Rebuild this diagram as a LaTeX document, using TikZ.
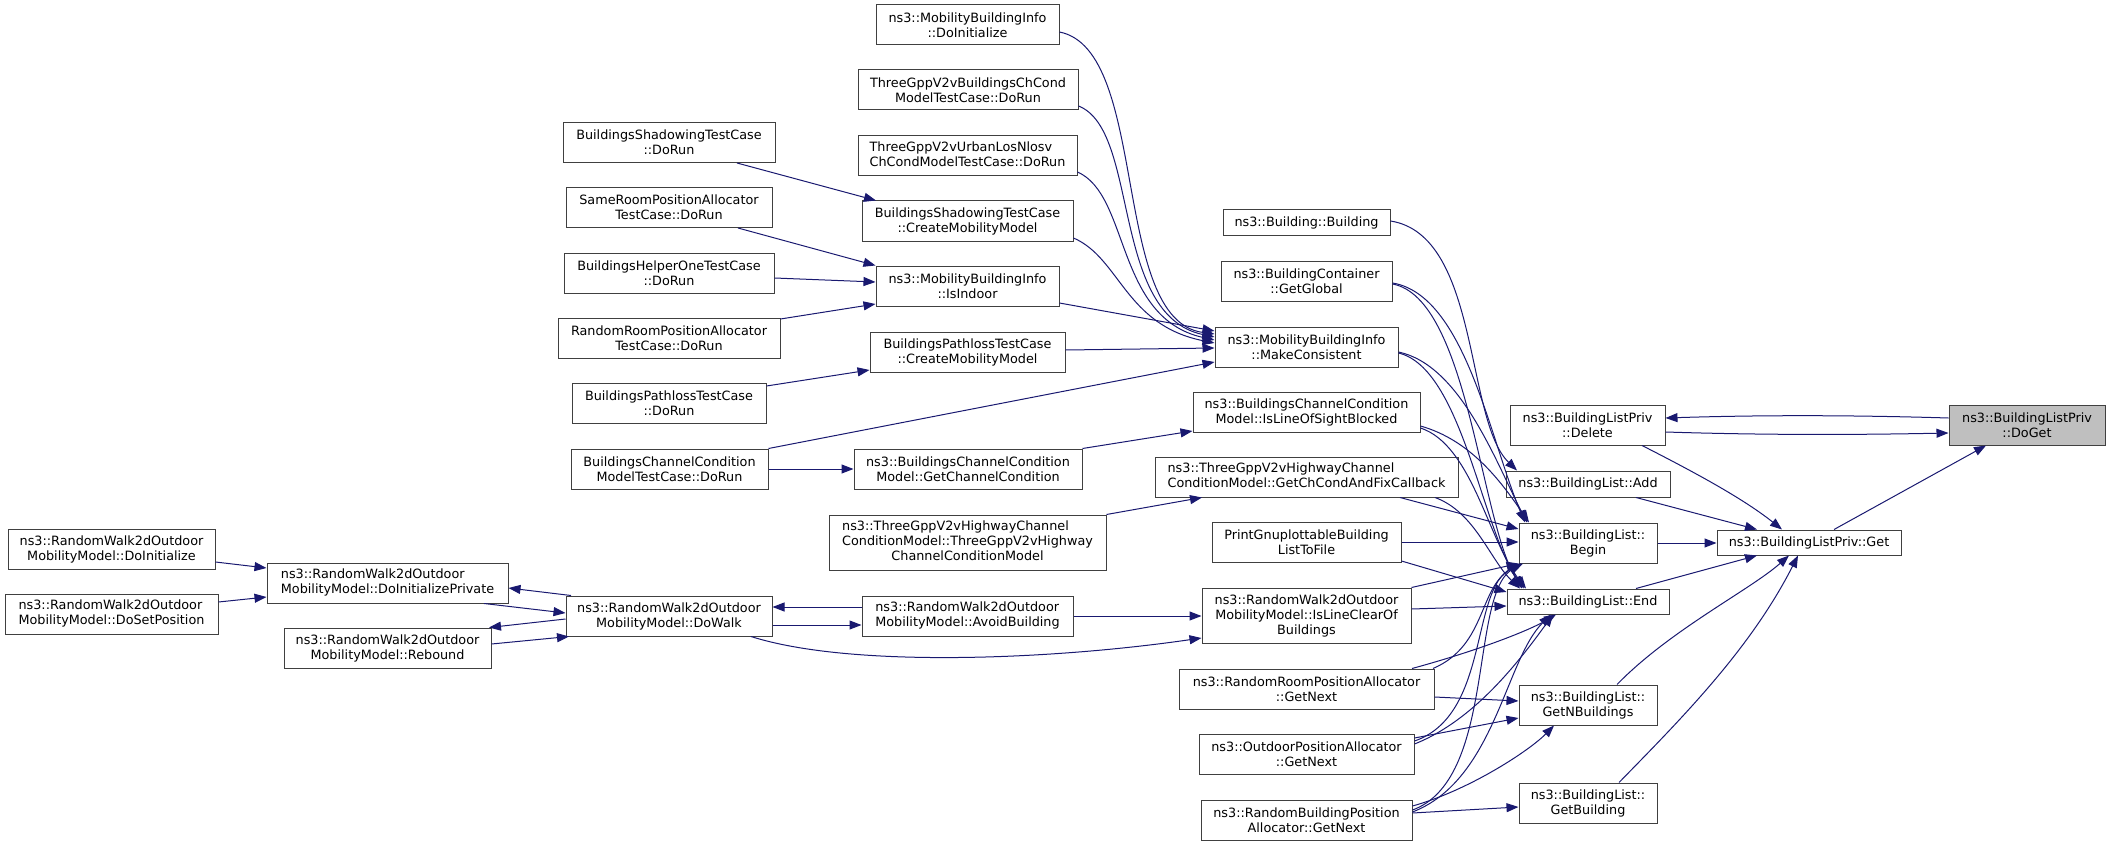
\documentclass[tikz,border=0pt]{standalone}
\usepackage{fontspec}
\usetikzlibrary{arrows.meta}
\newfontfamily\dvs{DejaVu Sans}
\newcommand\gfont{\dvs\fontsize{12.8}{15}\selectfont}
\definecolor{edgeblue}{HTML}{191970}
\definecolor{nodegray}{HTML}{404040}
\definecolor{hlgray}{HTML}{BFBFBF}
\tikzset{
  fn/.style={draw=nodegray, line width=1pt, fill=white, inner sep=0pt, align=center, font=\gfont, text=black},
  fnl/.style={draw=nodegray, line width=1pt, fill=white, inner sep=0pt, font=\gfont, text=black},
  edge/.style={draw=edgeblue, line width=1pt, -{Triangle[length=12pt,width=9pt]}}
}
\begin{document}
\begin{tikzpicture}[x=1pt,y=-1pt]
\useasboundingbox (0,0) rectangle (2109,845);
% right column
\node[fn, fill=hlgray, minimum width=156pt, minimum height=40pt] (DoGet) at (2027,425) {ns3::BuildingListPriv\\::DoGet};
\node[fn, minimum width=155pt, minimum height=40pt] (Delete) at (1587.5,425) {ns3::BuildingListPriv\\::Delete};
\node[fn, minimum width=184pt, minimum height=25pt] (BLPGet) at (1809,542.5) {ns3::BuildingListPriv::Get};
\node[fn, minimum width=164pt, minimum height=26pt] (Add) at (1588,484) {ns3::BuildingList::Add};
\node[fn, minimum width=138pt, minimum height=40pt] (Begin) at (1588,543) {ns3::BuildingList::\\Begin};
\node[fn, minimum width=162pt, minimum height=25pt] (End) at (1588,601.5) {ns3::BuildingList::End};
\node[fn, minimum width=138pt, minimum height=40pt] (GetNB) at (1588,705) {ns3::BuildingList::\\GetNBuildings};
\node[fn, minimum width=138pt, minimum height=40pt] (GetB) at (1588,803) {ns3::BuildingList::\\GetBuilding};
% column 1306
\node[fn, minimum width=167pt, minimum height=25pt] (Building) at (1306.5,222.5) {ns3::Building::Building};
\node[fn, minimum width=171pt, minimum height=40pt] (GetGlobal) at (1306.5,281) {ns3::BuildingContainer\\::GetGlobal};
\node[fn, minimum width=183pt, minimum height=40pt] (MakeCons) at (1306.5,347) {ns3::MobilityBuildingInfo\\::MakeConsistent};
\node[fn, minimum width=227pt, minimum height=40pt] (IsLOS) at (1306.5,412) {ns3::BuildingsChannelCondition\\Model::IsLineOfSightBlocked};
\node[fnl, minimum width=303pt, minimum height=40pt] (GetChCond) at (1306.5,477) {\begin{tabular}{@{}l@{}}ns3::ThreeGppV2vHighwayChannel\\ConditionModel::GetChCondAndFixCallback\end{tabular}};
\node[fn, minimum width=189pt, minimum height=40pt] (Print) at (1306.5,542) {PrintGnuplottableBuilding\\ListToFile};
\node[fn, minimum width=209pt, minimum height=55pt] (IsLineClear) at (1306.5,615.5) {ns3::RandomWalk2dOutdoor\\MobilityModel::IsLineClearOf\\Buildings};
\node[fn, minimum width=255pt, minimum height=40pt] (RRGetNext) at (1306.5,689) {ns3::RandomRoomPositionAllocator\\::GetNext};
\node[fn, minimum width=215pt, minimum height=40pt] (OutGetNext) at (1306.5,754) {ns3::OutdoorPositionAllocator\\::GetNext};
\node[fn, minimum width=211pt, minimum height=40pt] (RBGetNext) at (1306.5,820) {ns3::RandomBuildingPosition\\Allocator::GetNext};
% column 967
\node[fn, minimum width=183pt, minimum height=40pt] (MBIDoInit) at (967.5,25) {ns3::MobilityBuildingInfo\\::DoInitialize};
\node[fn, minimum width=220pt, minimum height=40pt] (ThreeGppBldg) at (968,90) {ThreeGppV2vBuildingsChCond\\ModelTestCase::DoRun};
\node[fnl, minimum width=219pt, minimum height=40pt] (ThreeGppUrban) at (967.5,156) {\begin{tabular}{@{}l@{}}ThreeGppV2vUrbanLosNlosv\\ChCondModelTestCase::DoRun\end{tabular}};
\node[fn, minimum width=211pt, minimum height=40pt] (BShadowCMM) at (967.5,221) {BuildingsShadowingTestCase\\::CreateMobilityModel};
\node[fn, minimum width=183pt, minimum height=40pt] (IsIndoor) at (967.5,286) {ns3::MobilityBuildingInfo\\::IsIndoor};
\node[fn, minimum width=195pt, minimum height=40pt] (BPathlossCMM) at (967.5,352) {BuildingsPathlossTestCase\\::CreateMobilityModel};
\node[fn, minimum width=228pt, minimum height=40pt] (GetChanCond) at (968,469) {ns3::BuildingsChannelCondition\\Model::GetChannelCondition};
\node[fnl, minimum width=277pt, minimum height=55pt] (ThreeGppHwy) at (967.5,542.5) {\begin{tabular}{@{}l@{}}ns3::ThreeGppV2vHighwayChannel\\ConditionModel::ThreeGppV2vHighway\\\multicolumn{1}{@{}c@{}}{ChannelConditionModel}\end{tabular}};
\node[fnl, minimum width=211pt, minimum height=40pt] (Avoid) at (967.5,616) {\begin{tabular}{@{}l@{}}ns3::RandomWalk2dOutdoor\\MobilityModel::AvoidBuilding\end{tabular}};
% column 669
\node[fn, minimum width=212pt, minimum height=40pt] (BShadowDoRun) at (669,142.5) {BuildingsShadowingTestCase\\::DoRun};
\node[fn, minimum width=206pt, minimum height=40pt] (SameRoom) at (669,207.5) {SameRoomPositionAllocator\\TestCase::DoRun};
\node[fn, minimum width=210pt, minimum height=40pt] (HelperOne) at (669,273) {BuildingsHelperOneTestCase\\::DoRun};
\node[fn, minimum width=222pt, minimum height=40pt] (RRDoRun) at (669,338) {RandomRoomPositionAllocator\\TestCase::DoRun};
\node[fn, minimum width=194pt, minimum height=40pt] (BPathlossDoRun) at (669,403.5) {BuildingsPathlossTestCase\\::DoRun};
\node[fn, minimum width=197pt, minimum height=40pt] (BCCMDoRun) at (669.5,469) {BuildingsChannelCondition\\ModelTestCase::DoRun};
\node[fn, minimum width=206pt, minimum height=40pt] (DoWalk) at (669,616) {ns3::RandomWalk2dOutdoor\\MobilityModel::DoWalk};
% column 387
\node[fnl, minimum width=241pt, minimum height=40pt] (DoInitPriv) at (387.5,583) {\begin{tabular}{@{}l@{}}ns3::RandomWalk2dOutdoor\\MobilityModel::DoInitializePrivate\end{tabular}};
\node[fn, minimum width=207pt, minimum height=40pt] (Rebound) at (387.5,648) {ns3::RandomWalk2dOutdoor\\MobilityModel::Rebound};
% column 111
\node[fn, minimum width=207pt, minimum height=40pt] (RWDoInit) at (111.5,549) {ns3::RandomWalk2dOutdoor\\MobilityModel::DoInitialize};
\node[fnl, minimum width=213pt, minimum height=40pt] (RWDoSetPos) at (111.5,614) {\begin{tabular}{@{}l@{}}ns3::RandomWalk2dOutdoor\\MobilityModel::DoSetPosition\end{tabular}};

% ---- edges: right part
\draw[edge] (BLPGet.north -| 1834,0) -- (DoGet.south -| 1986,0);
\draw[edge] (DoGet.west |- 0,418) .. controls (1850,415) and (1760,415) .. (Delete.east |- 0,418);
\draw[edge] (Delete.east |- 0,432) .. controls (1760,435) and (1850,435) .. (DoGet.west |- 0,433);
\draw[edge] (Delete.south -| 1642,0) .. controls (1700,475) and (1745,500) .. (BLPGet.north -| 1782,0);
\draw[edge] (Add.south -| 1636,0) -- (BLPGet.north -| 1757,0);
\draw[edge] (Begin.east) -- (BLPGet.west |- 0,543);
\draw[edge] (End.north -| 1636,0) -- (BLPGet.south -| 1757,0);
\draw[edge] (GetNB.north -| 1617,0) .. controls (1670,630) and (1750,590) .. (BLPGet.south -| 1789,0);
\draw[edge] (GetB.north -| 1619,0) .. controls (1680,720) and (1750,650) .. (BLPGet.south -| 1798,0);
% into Add
\draw[edge] (Building.east |- 0,221) .. controls (1480,235) and (1465,420) .. (Add.north -| 1517,0);
% into Begin / End from above
\draw[edge] (GetGlobal.east |- 0,283) .. controls (1465,295) and (1490,440) .. (Begin.north -| 1525,0);
\draw[edge] (GetGlobal.east |- 0,284) .. controls (1468,298) and (1480,520) .. (End.north -| 1522,0);
\draw[edge] (MakeCons.east |- 0,352) .. controls (1460,365) and (1495,460) .. (Begin.north -| 1527,0);
\draw[edge] (MakeCons.east |- 0,353) .. controls (1462,368) and (1482,530) .. (End.north -| 1524,0);
\draw[edge] (IsLOS.east |- 0,426) .. controls (1470,440) and (1500,480) .. (Begin.north -| 1529,0);
\draw[edge] (IsLOS.east |- 0,428) .. controls (1472,445) and (1488,540) .. (End.north -| 1526,0);
\draw[edge] (GetChCond.south -| 1400,0) -- (Begin.west |- 0,529);
\draw[edge] (GetChCond.south -| 1435,0) .. controls (1475,512) and (1490,560) .. (End.north -| 1520,0);
\draw[edge] (Print.east) -- (Begin.west |- 0,542);
\draw[edge] (Print.east |- 0,561) -- (End.west |- 0,592);
\draw[edge] (IsLineClear.north east) -- (Begin.south west);
\draw[edge] (IsLineClear.east |- 0,609) -- (End.west |- 0,606);
% from below
\draw[edge] (RRGetNext.north -| 1433,0) .. controls (1488,645) and (1478,585) .. (Begin.south -| 1523,0);
\draw[edge] (RRGetNext.north -| 1412,0) .. controls (1480,650) and (1530,630) .. (End.south -| 1556,0);
\draw[edge] (RRGetNext.east |- 0,697) -- (GetNB.west |- 0,701);
\draw[edge] (OutGetNext.east |- 0,738) -- (GetNB.west |- 0,718);
\draw[edge] (OutGetNext.east |- 0,744) .. controls (1475,720) and (1520,660) .. (End.south -| 1553,0);
\draw[edge] (OutGetNext.east |- 0,741) .. controls (1490,715) and (1470,590) .. (Begin.south -| 1521,0);
\draw[edge] (RBGetNext.east |- 0,806) .. controls (1470,790) and (1530,750) .. (GetNB.south -| 1554,0);
\draw[edge] (RBGetNext.east |- 0,810) .. controls (1495,780) and (1470,600) .. (Begin.south -| 1520,0);
\draw[edge] (RBGetNext.east |- 0,812) .. controls (1495,780) and (1505,660) .. (End.south -| 1551,0);
\draw[edge] (RBGetNext.east |- 0,813) -- (GetB.west |- 0,807);
% into MakeConsistent
\draw[edge] (MBIDoInit.east |- 0,32) .. controls (1150,50) and (1110,320) .. (MakeCons.west |- 0,334);
\draw[edge] (ThreeGppBldg.east |- 0,106) .. controls (1140,130) and (1110,315) .. (MakeCons.west |- 0,337);
\draw[edge] (ThreeGppUrban.east |- 0,172) .. controls (1130,195) and (1115,318) .. (MakeCons.west |- 0,340);
\draw[edge] (BShadowCMM.east |- 0,238) .. controls (1120,258) and (1125,325) .. (MakeCons.west |- 0,343);
\draw[edge] (IsIndoor.east |- 0,303) -- (MakeCons.west |- 0,331);
\draw[edge] (BPathlossCMM.east |- 0,350) -- (MakeCons.west |- 0,348);
\draw[edge] (BCCMDoRun.north east) -- (MakeCons.west |- 0,362);
% left part
\draw[edge] (BShadowDoRun.south -| 737,0) -- (BShadowCMM.north -| 876,0);
\draw[edge] (SameRoom.south -| 738,0) -- (IsIndoor.north west);
\draw[edge] (HelperOne.east |- 0,278) -- (IsIndoor.west |- 0,282);
\draw[edge] (RRDoRun.east |- 0,319) -- (IsIndoor.west |- 0,304);
\draw[edge] (BPathlossDoRun.east |- 0,386) -- (BPathlossCMM.west |- 0,370);
\draw[edge] (BCCMDoRun.east) -- (GetChanCond.west);
\draw[edge] (GetChanCond.north east) -- (IsLOS.west |- 0,431);
\draw[edge] (ThreeGppHwy.north east) -- (GetChCond.south -| 1202,0);
% random walk
\draw[edge] (DoInitPriv.south -| 484,0) -- (DoWalk.west |- 0,613);
\draw[edge] (DoWalk.north -| 571,0) -- (DoInitPriv.east |- 0,588);
\draw[edge] (DoWalk.west |- 0,619) -- (Rebound.north -| 489,0);
\draw[edge] (Rebound.east |- 0,644) -- (DoWalk.south -| 569,0);
\draw[edge] (RWDoInit.east |- 0,562) -- (DoInitPriv.west |- 0,568);
\draw[edge] (RWDoSetPos.east |- 0,602) -- (DoInitPriv.west |- 0,597);
\draw[edge] (Avoid.west |- 0,607) -- (DoWalk.east |- 0,607);
\draw[edge] (DoWalk.east |- 0,625) -- (Avoid.west |- 0,625);
\draw[edge] (Avoid.east) -- (IsLineClear.west |- 0,616);
\draw[edge] (DoWalk.south -| 751,0) .. controls (850,668) and (1050,660) .. (IsLineClear.west |- 0,638);
\end{tikzpicture}
\end{document}
